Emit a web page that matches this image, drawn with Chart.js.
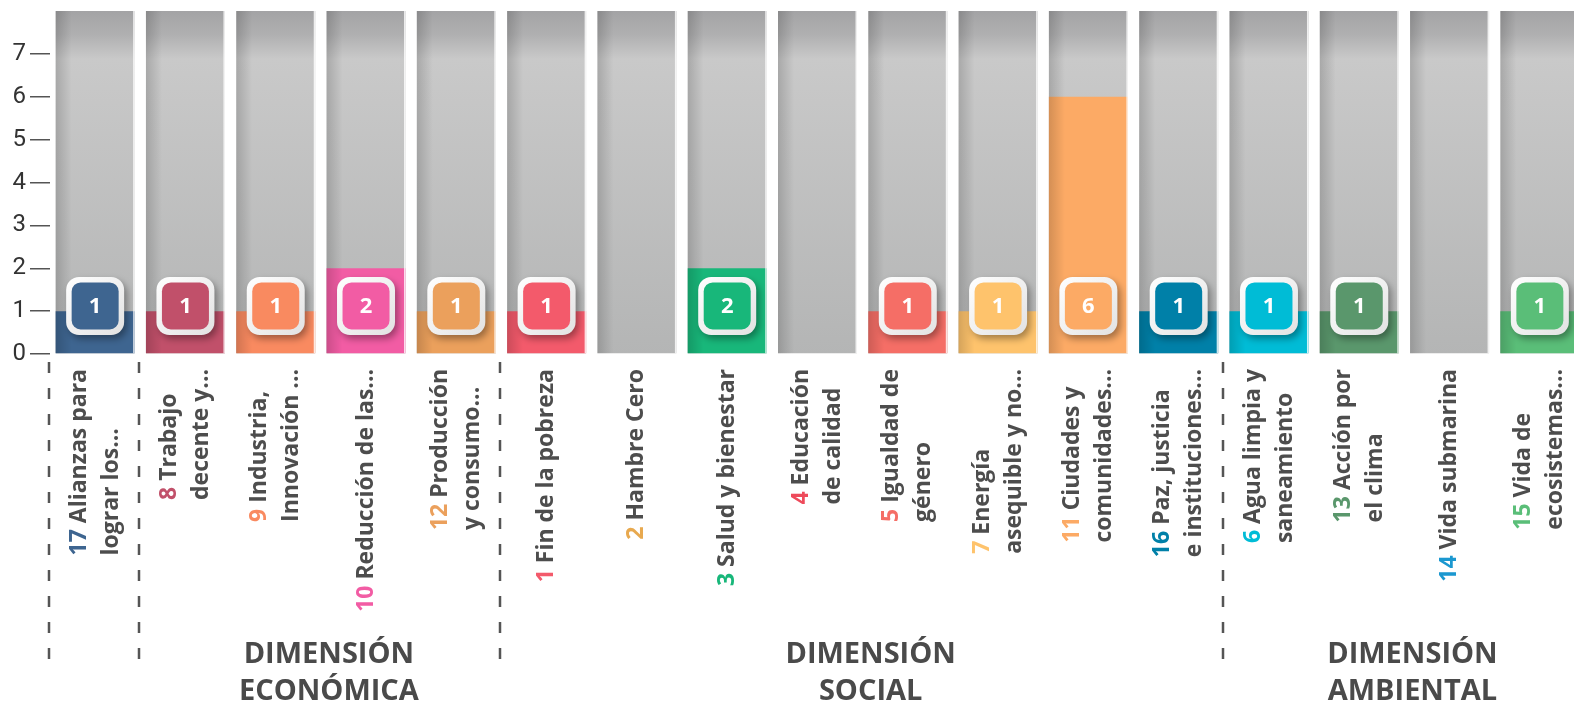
<!DOCTYPE html>
<html>
<head>
<meta charset="utf-8">
<script src="https://cdn.jsdelivr.net/npm/chart.js@4/dist/chart.umd.min.js"></script>
<style>
  html, body { margin: 0; padding: 0; background: #fff; overflow: hidden; }
  #wrap { position: relative; width: 1590px; height: 708px; }
</style>
</head>
<body>
<div id="wrap"><canvas id="chart" width="1590" height="708"></canvas></div>
<script>
// ODS numbers, short names (already wrapped as in the picture) and counts
const codes = ['17', '8', '9', '10', '12', '1', '2', '3', '4', '5', '7', '11', '16', '6', '13', '14', '15'];
const names = [
    ['Alianzas para', 'lograr los...'],
    ['Trabajo', 'decente y...'],
    ['Industria,', 'Innovación ...'],
    ['Reducción de las...'],
    ['Producción', 'y consumo...'],
    ['Fin de la pobreza'],
    ['Hambre Cero'],
    ['Salud y bienestar'],
    ['Educación', 'de calidad'],
    ['Igualdad de', 'género'],
    ['Energía', 'asequible y no...'],
    ['Ciudades y', 'comunidades...'],
    ['Paz, justicia', 'e instituciones...'],
    ['Agua limpia y', 'saneamiento'],
    ['Acción por', 'el clima'],
    ['Vida submarina'],
    ['Vida de', 'ecosistemas...']
];
const values = [1, 1, 1, 2, 1, 1, 0, 2, 0, 1, 1, 6, 1, 1, 1, 0, 1];
const colors = ['#3e6590', '#c1506a', '#f98a60', '#f25ca4', '#eba05c', '#f35a6b', '#e8a94f', '#18b77a',
                '#ee4a5b', '#f56e66', '#fec36c', '#fcaa65', '#0080a8', '#00bcd6', '#5a976c', '#1b98d0', '#5abe78'];
const maxValue = 8;
const yTicks = [0, 1, 2, 3, 4, 5, 6, 7];

// dimension groups (first/last column index) and where the dashed separators go
const groupNames = [['DIMENSIÓN', 'ECONÓMICA'], ['DIMENSIÓN', 'SOCIAL'], ['DIMENSIÓN', 'AMBIENTAL']];
const groupFrom = [1, 5, 13];
const groupTo = [4, 12, 16];
const separators = [0, 1, 5, 13];

const labelFont = 'bold 23px "Open Sans"';
const textGray = '#4d4d4d';

function grayFill(c) {
    const area = c.chart.chartArea;
    if (!area) return '#bcbcbc';
    const g = c.chart.ctx.createLinearGradient(0, area.top, 0, area.bottom);
    g.addColorStop(0, '#a3a3a5');
    g.addColorStop(0.07, '#b0b0b1');
    g.addColorStop(0.14, '#c9c9c9');
    g.addColorStop(1, '#b4b5b5');
    return g;
}

function roundRect(ctx, x, y, w, h, r) {
    ctx.beginPath();
    ctx.moveTo(x + r, y);
    ctx.arcTo(x + w, y, x + w, y + h, r);
    ctx.arcTo(x + w, y + h, x, y + h, r);
    ctx.arcTo(x, y + h, x, y, r);
    ctx.arcTo(x, y, x + w, y, r);
    ctx.closePath();
}

const decorations = {
    id: 'decorations',
    afterDatasetsDraw(chart) {
        const ctx = chart.ctx;
        const yScale = chart.scales.y;
        const grayMeta = chart.getDatasetMeta(1);
        const valMeta = chart.getDatasetMeta(0);

        // darker left edge on every column
        grayMeta.data.forEach(el => {
            const left = el.x - el.width / 2;
            const g = ctx.createLinearGradient(left, 0, left + 16, 0);
            g.addColorStop(0, 'rgba(0,0,0,0.16)');
            g.addColorStop(1, 'rgba(0,0,0,0)');
            ctx.fillStyle = g;
            ctx.fillRect(left, el.y, 16, el.base - el.y);
            ctx.fillStyle = 'rgba(255,255,255,0.8)';
            ctx.fillRect(el.x + el.width / 2 - 1.5, el.y, 1.5, el.base - el.y);
        });

        // value badges
        const by = yScale.getPixelForValue(1.12);
        valMeta.data.forEach((el, i) => {
            if (!values[i]) return;
            const s = 58, inner = 47;
            ctx.save();
            ctx.shadowColor = 'rgba(0,0,0,0.35)';
            ctx.shadowBlur = 7;
            ctx.shadowOffsetX = 3;
            ctx.shadowOffsetY = 4;
            const g = ctx.createLinearGradient(el.x - s / 2, by - s / 2, el.x + s / 2, by + s / 2);
            g.addColorStop(0, '#ffffff');
            g.addColorStop(1, '#e2e2e2');
            ctx.fillStyle = g;
            roundRect(ctx, el.x - s / 2, by - s / 2, s, s, 13);
            ctx.fill();
            ctx.restore();
            ctx.fillStyle = colors[i];
            roundRect(ctx, el.x - inner / 2, by - inner / 2, inner, inner, 9);
            ctx.fill();
            ctx.fillStyle = '#fff';
            ctx.font = 'bold 22px "Open Sans"';
            ctx.textAlign = 'center';
            ctx.textBaseline = 'middle';
            ctx.fillText(String(values[i]), el.x, by + 1);
        });
    },
    afterDraw(chart) {
        const ctx = chart.ctx;
        const xs = chart.scales.x;
        const step = xs.width / codes.length;
        const top = 369;

        // rotated category labels, number coloured
        ctx.save();
        ctx.font = labelFont;
        ctx.textBaseline = 'middle';
        ctx.textAlign = 'left';
        codes.forEach((code, i) => {
            const lines = names[i].slice();
            const first = code + ' ';
            const widths = lines.map((t, j) => ctx.measureText(j === 0 ? first + t : t).width);
            const w = Math.max(...widths);
            const cx = xs.getPixelForValue(i);
            lines.forEach((t, j) => {
                const lx = cx + (j - (lines.length - 1) / 2) * 32;
                ctx.save();
                ctx.translate(lx, top + w);
                ctx.rotate(-Math.PI / 2);
                let x0 = 0;
                if (j === 0) {
                    ctx.fillStyle = colors[i];
                    ctx.fillText(code, 0, 0);
                    x0 = ctx.measureText(first).width;
                }
                ctx.fillStyle = textGray;
                ctx.fillText(t, x0, 0);
                ctx.restore();
            });
        });
        ctx.restore();

        // dashed separators
        ctx.save();
        ctx.strokeStyle = '#555';
        ctx.lineWidth = 2.5;
        ctx.setLineDash([11, 15]);
        separators.forEach(i => {
            const x = Math.round(xs.getPixelForValue(i) - step / 2) - 1;
            ctx.beginPath();
            ctx.moveTo(x, 362);
            ctx.lineTo(x, 662);
            ctx.stroke();
        });
        ctx.restore();

        // dimension titles
        ctx.save();
        ctx.font = 'bold 29px "Open Sans"';
        ctx.fillStyle = '#4a4a4a';
        ctx.textAlign = 'center';
        ctx.textBaseline = 'middle';
        groupNames.forEach((lines, g) => {
            const cx = (xs.getPixelForValue(groupFrom[g]) + xs.getPixelForValue(groupTo[g])) / 2 + 8;
            lines.forEach((t, j) => ctx.fillText(t, cx, 655 + j * 37));
        });
        ctx.restore();
    }
};

new Chart(document.getElementById('chart').getContext('2d'), {
    type: 'bar',
    data: {
        labels: codes,
        datasets: [
            {
                data: values,
                backgroundColor: colors,
                grouped: false,
                order: 1,
                barPercentage: 0.875,
                categoryPercentage: 1
            },
            {
                data: codes.map(() => maxValue),
                backgroundColor: grayFill,
                grouped: false,
                order: 2,
                barPercentage: 0.875,
                categoryPercentage: 1
            }
        ]
    },
    options: {
        responsive: false,
        animation: false,
        events: [],
        layout: { padding: { top: 11, right: 5, left: 0, bottom: 0 } },
        plugins: { legend: { display: false }, tooltip: { enabled: false } },
        scales: {
            x: {
                ticks: { display: false },
                grid: { display: false },
                border: { display: false },
                afterFit: s => { s.height = 354; s.paddingLeft = 0; s.paddingRight = 0; }
            },
            y: {
                min: 0,
                max: maxValue,
                afterBuildTicks: s => { s.ticks = yTicks.map(v => ({ value: v })); },
                ticks: {
                    color: '#333',
                    padding: 4,
                    font: { family: '"Liberation Sans Narrow", Roboto, sans-serif', size: 24 }
                },
                grid: { drawOnChartArea: false, drawTicks: true, tickLength: 20, color: '#555', lineWidth: 1.5 },
                border: { display: false },
                afterFit: s => { s.width = 50; s.paddingTop = 0; s.paddingBottom = 0; }
            }
        }
    },
    plugins: [decorations]
});
</script>
</body>
</html>
